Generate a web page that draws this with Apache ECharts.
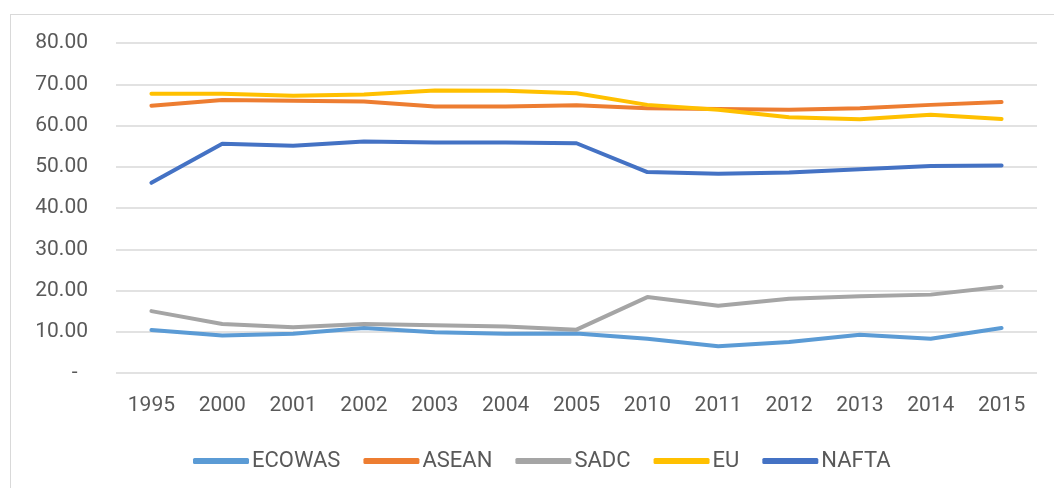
<!DOCTYPE html>
<html>
<head>
<meta charset="utf-8">
<script src="https://cdn.jsdelivr.net/npm/echarts@6/dist/echarts.min.js"></script>
<style>
  html, body { margin: 0; padding: 0; background: #fff; }
  #chart { width: 1054px; height: 488px; }
</style>
</head>
<body>
<div id="chart"></div>
<script>
// years on the x axis
const years = ['1995', '2000', '2001', '2002', '2003', '2004', '2005', '2010', '2011', '2012', '2013', '2014', '2015']

// series values
const ecowas = [10.4, 9.1, 9.5, 10.9, 9.9, 9.5, 9.6, 8.3, 6.5, 7.5, 9.3, 8.3, 10.9]
const asean = [64.8, 66.2, 66.0, 65.8, 64.6, 64.6, 64.9, 64.2, 64.0, 63.8, 64.2, 65.0, 65.7]
const sadc = [15.0, 11.9, 11.1, 11.9, 11.6, 11.3, 10.5, 18.4, 16.3, 18.0, 18.6, 19.0, 20.9]
const eu = [67.7, 67.7, 67.2, 67.5, 68.5, 68.4, 67.8, 65.0, 63.8, 62.0, 61.5, 62.6, 61.6]
const nafta = [46.1, 55.6, 55.1, 56.1, 55.9, 55.9, 55.7, 48.7, 48.3, 48.6, 49.4, 50.2, 50.3]

const seriesNames = ['ECOWAS', 'ASEAN', 'SADC', 'EU', 'NAFTA']
const seriesData = [ecowas, asean, sadc, eu, nafta]
const colors = ['#5B9BD5', '#ED7D31', '#A5A5A5', '#FFC000', '#4472C4']

const font = 'Roboto, "Liberation Sans", sans-serif'

const myChart = echarts.init(document.getElementById('chart'))
const option = {
  animation: false,
  color: colors,
  // outer frame (top + left edge only, as in the picture)
  graphic: [
    { type: 'line', shape: { x1: 10, y1: 14.5, x2: 1054, y2: 14.5 }, style: { stroke: '#D9D9D9', lineWidth: 1 } },
    { type: 'line', shape: { x1: 10.5, y1: 14, x2: 10.5, y2: 488 }, style: { stroke: '#D9D9D9', lineWidth: 1 } },
  ],
  grid: { left: 116, right: 17, top: 43, bottom: 115 },
  legend: {
    data: seriesNames,
    top: 445,
    left: 188,
    icon: 'roundRect',
    itemWidth: 56,
    itemHeight: 6,
    itemGap: 23,
    textStyle: { color: '#595959', fontSize: 22, fontFamily: font, padding: [0, 0, 0, -2] },
  },
  xAxis: {
    type: 'category',
    data: years,
    axisLine: { show: false },
    axisTick: { show: false },
    axisLabel: { color: '#595959', fontSize: 21, fontFamily: font, margin: 22 },
  },
  yAxis: {
    type: 'value',
    min: 0,
    max: 80,
    interval: 10,
    axisLine: { show: false },
    axisTick: { show: false },
    axisLabel: {
      color: '#595959',
      fontSize: 21,
      fontFamily: font,
      margin: 28,
      formatter: function (value) {
        if (value === 0) return '-  '
        return value.toFixed(2)
      },
    },
    splitLine: { lineStyle: { color: '#D9D9D9', width: 1.5 } },
  },
  series: seriesNames.map(function (name, i) {
    return {
      name: name,
      type: 'line',
      data: seriesData[i],
      showSymbol: false,
      symbol: 'none',
      lineStyle: { width: 4, color: colors[i], cap: 'round' },
    }
  }),
}
myChart.setOption(option)
</script>
</body>
</html>
